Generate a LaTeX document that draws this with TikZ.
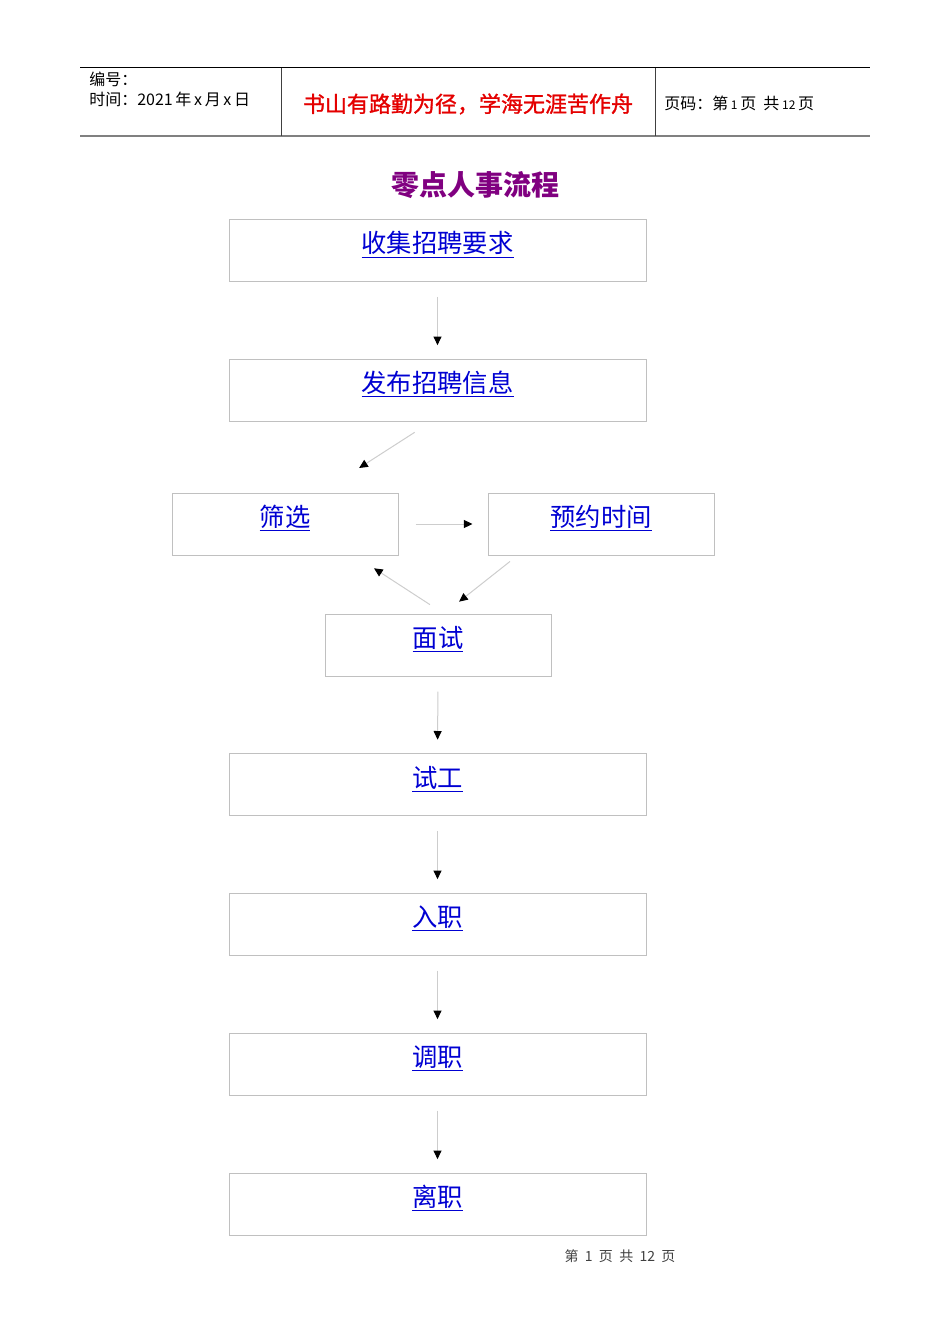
\documentclass[tikz,border=0pt]{standalone}
\usepackage{fontspec}
\setmainfont{Liberation Sans}
\newfontfamily\cjk{Noto Sans CJK SC}
\newfontfamily\cjkheavy[FakeBold=1.2]{Noto Sans CJK SC}
\usetikzlibrary{positioning}
\usetikzlibrary{arrows.meta}
\usetikzlibrary{calc}

\definecolor{boxgray}{RGB}{192,192,192}
\definecolor{linegray}{RGB}{205,205,205}
\definecolor{linkblue}{RGB}{0,0,210}
\definecolor{titlepurple}{RGB}{128,0,128}
\definecolor{mottored}{RGB}{228,0,0}

\begin{document}
\begin{tikzpicture}[x=0.75pt, y=-0.75pt,
    stage/.style={draw=boxgray, line width=0.75pt, minimum height=46.5pt, inner sep=0pt},
    wide/.style={stage, minimum width=312.75pt},
    narrow/.style={stage, minimum width=169.5pt},
    link/.style={text=linkblue, font=\cjk\fontsize{19}{22}\selectfont, inner sep=0pt, anchor=base},
    head/.style={font=\cjk\fontsize{12}{14}\selectfont, inner sep=0pt, anchor=west},
    flow/.style={draw=linegray, line width=0.75pt, -{Triangle[length=6.5pt, width=6pt, color=black]}},
    vflow/.style={flow, shorten <=11.25pt, shorten >=10pt}]
        \useasboundingbox (0,0) rectangle (950,1344);

        % Header table
        \draw[line width=0.75pt] (80,68) -- (870,68);
        \draw[gray, line width=1.5pt] (80,136) -- (870,136);
        \draw[darkgray, line width=0.75pt] (281,68) -- (281,136);
        \draw[darkgray, line width=0.75pt] (655,68) -- (655,136);
        \node[head] (serial) at (89,79) {编号：};
        \node[head] (date) at (89,99) {时间：2021\,年\,x\,月\,x\,日};
        \node[text=mottored, font=\cjkheavy\fontsize{16.5}{19}\selectfont, inner sep=0pt] (motto) at (468,104) {书山有路勤为径，学海无涯苦作舟};
        \node[head] (pageno) at (664,103) {页码：第\,{\small 1}\,页\ \ 共\,{\small 12}\,页};

        % Title
        \node[text=titlepurple, font=\cjk\bfseries\fontsize{21}{24}\selectfont, inner sep=0pt] (title) at (475,185) {零点人事流程};

        % Define the boxes
        \node[wide] (collect) at (437.5,250.5) {};
        \node[wide] (publish) at (437.5,390) {};
        \node[narrow] (screen) at (285,524) {};
        \node[narrow] (appoint) at (601,524) {};
        \node[narrow] (interview) at (438,645) {};
        \node[wide] (trial) at (437.5,784.5) {};
        \node[wide] (onboard) at (437.5,924) {};
        \node[wide] (transfer) at (437.5,1064) {};
        \node[wide] (leave) at (437.5,1204) {};

        \foreach \stg/\txt in {collect/收集招聘要求, publish/发布招聘信息, screen/筛选,
                appoint/预约时间, interview/面试, trial/试工, onboard/入职,
                transfer/调职, leave/离职}
            \node[link] (\stg-text) at ([yshift=-25.5pt]\stg.north) {\underline{\txt}};

        % Draw the arrows
        \foreach \from/\to in {collect/publish, interview/trial, trial/onboard,
                onboard/transfer, transfer/leave}
            \draw[vflow] (\from.south) -- (\to.north);

        \draw[flow, shorten <=15pt, shorten >=34pt] ([xshift=-4.5pt]publish.south) -- ([xshift=27pt]screen.north);
        \draw[flow, shorten <=12.75pt, shorten >=11.25pt] (screen) -- (appoint);
        \draw[flow, shorten <=12.2pt, shorten >=17.6pt] ([xshift=4.2pt]interview.north) -- ([xshift=52pt]screen.south);
        \draw[flow, shorten <=7.2pt, shorten >=14.3pt] ([xshift=-62.6pt]appoint.south) -- ([xshift=4.6pt]interview.north);

        % Footer
        \node[text=darkgray, font=\cjk\fontsize{10.5}{12}\selectfont, inner sep=0pt] (footer) at (620,1256) {第\ \ 1\ \ 页\ \ 共\ \ 12\ \ 页};
     \end{tikzpicture}
\end{document}
